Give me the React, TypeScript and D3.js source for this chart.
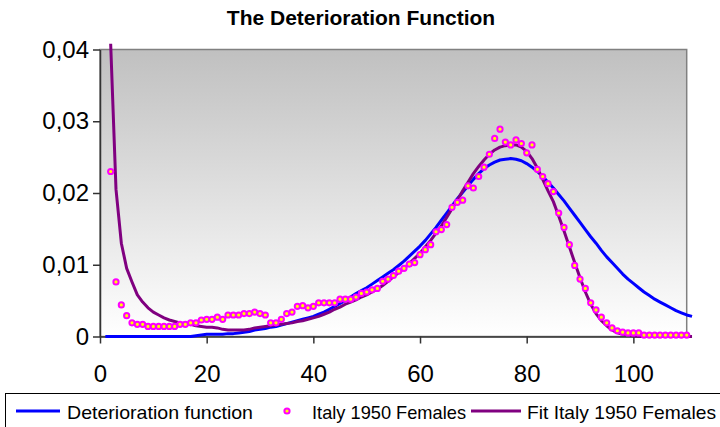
import React, { useEffect, useRef } from "react";
import * as d3 from "d3";

// deterioration function, ages 1..111
const detStartAge = 1;
const deterioration = [
  0, 0, 0, 0, 0, 0, 0, 0, 0, 0,
  0, 0, 0, 0, 0, 0, 0, 0.0001, 0.0002, 0.0003,
  0.0003, 0.0003, 0.0003, 0.0004, 0.0004, 0.0005, 0.0006, 0.0007, 0.0009, 0.001,
  0.0011, 0.0013, 0.0014, 0.0016, 0.0018, 0.002, 0.0022, 0.0024, 0.0026, 0.0028,
  0.0031, 0.0034, 0.0038, 0.0042, 0.0046, 0.005, 0.0055, 0.006, 0.0064, 0.0068,
  0.0073, 0.0078, 0.0083, 0.0088, 0.0093, 0.0099, 0.0105, 0.0112, 0.0119, 0.0126,
  0.0134, 0.0143, 0.0152, 0.0162, 0.0172, 0.0182, 0.0192, 0.0201, 0.021, 0.0219,
  0.0227, 0.0234, 0.0239, 0.0243, 0.0246, 0.0247, 0.0248, 0.0247, 0.0245, 0.0241,
  0.0236, 0.023, 0.0223, 0.0215, 0.0207, 0.0198, 0.0189, 0.0179, 0.0169, 0.0159,
  0.0149, 0.0139, 0.013, 0.012, 0.0111, 0.0103, 0.0095, 0.0087, 0.008, 0.0074,
  0.0068, 0.0062, 0.0057, 0.0052, 0.0048, 0.0044, 0.004, 0.0036, 0.0033, 0.003,
  0.0028,
];

// observed points, ages 2..110
const pointStartAge = 2;
const italy1950Females = [
  0.023, 0.0076, 0.0044, 0.0029, 0.0019, 0.0017, 0.0017, 0.0014, 0.0014, 0.0014,
  0.0014, 0.0014, 0.0014, 0.0017, 0.0017, 0.0019, 0.0019, 0.0023, 0.0024, 0.0024,
  0.0027, 0.0024, 0.003, 0.003, 0.003, 0.0032, 0.0032, 0.0034, 0.0032, 0.003,
  0.0019, 0.0019, 0.0024, 0.0032, 0.0034, 0.0042, 0.0043, 0.004, 0.0042, 0.0047,
  0.0047, 0.0047, 0.0047, 0.0052, 0.0052, 0.0052, 0.0055, 0.006, 0.0062, 0.0065,
  0.0067, 0.0077, 0.008, 0.0085, 0.0091, 0.0095, 0.0101, 0.0103, 0.0114, 0.0121,
  0.0128, 0.0146, 0.0149, 0.0156, 0.018, 0.0187, 0.019, 0.021, 0.0207, 0.0223,
  0.0236, 0.0254, 0.0276, 0.0289, 0.0271, 0.0267, 0.0274, 0.0269, 0.0256, 0.0267,
  0.0233, 0.0223, 0.0213, 0.0202, 0.0172, 0.0152, 0.0128, 0.0099, 0.008, 0.0067,
  0.0047, 0.0037, 0.0027, 0.0019, 0.0012, 0.0008, 0.0006, 0.0005, 0.0005, 0.0005,
  0.0002, 0.0002, 0.0002, 0.0002, 0.0002, 0.0002, 0.0002, 0.0002, 0.0002,
];

// fitted curve, ages 2..111
const fitStartAge = 2;
const fitItaly1950Females = [
  0.0408, 0.0205, 0.013, 0.0095, 0.0076, 0.0058, 0.0048, 0.004, 0.0034, 0.003,
  0.0026, 0.0023, 0.0021, 0.0019, 0.0018, 0.0017, 0.0015, 0.0014, 0.0013, 0.0013,
  0.0012, 0.001, 0.0009, 0.0009, 0.0009, 0.0009, 0.001, 0.0012, 0.0013, 0.0014,
  0.0015, 0.0016, 0.0017, 0.0018, 0.0019, 0.0021, 0.0022, 0.0024, 0.0026, 0.0028,
  0.0031, 0.0034, 0.0038, 0.0041, 0.0045, 0.0048, 0.0051, 0.0055, 0.0058, 0.0062,
  0.0066, 0.0071, 0.0077, 0.0083, 0.0089, 0.0095, 0.0102, 0.0109, 0.0116, 0.0125,
  0.0134, 0.0144, 0.0154, 0.0166, 0.0178, 0.019, 0.0203, 0.0215, 0.0227, 0.0237,
  0.0246, 0.0254, 0.026, 0.0264, 0.0266, 0.0267, 0.0267, 0.0264, 0.0258, 0.0248,
  0.0235, 0.0219, 0.0203, 0.0188, 0.0168, 0.0147, 0.0125, 0.0103, 0.0082, 0.0062,
  0.0045, 0.0032, 0.0022, 0.0015, 0.0009, 0.0005, 0.0003, 0.0002, 0.0001, 0,
  0, 0, 0, 0, 0, 0, 0, 0, 0, 0,
];

const xTicks = [0, 20, 40, 60, 80, 100];
const yTicks = [0, 0.01, 0.02, 0.03, 0.04];
const legendLabels = ["Deterioration function", "Italy 1950 Females", "Fit Italy 1950 Females"];
const title = "The Deterioration Function";

const FONT = "'Liberation Sans', Arial, sans-serif";

export default function App() {
  const ref = useRef<SVGSVGElement>(null);

  useEffect(() => {
    const svg = d3.select(ref.current);
    svg.selectAll("*").remove();

    const plot = { left: 100, right: 686.7, top: 49.5, bottom: 336.5 };
    const x = d3.scaleLinear().domain([0, 110]).range([plot.left, plot.right]);
    const y = d3.scaleLinear().domain([0, 0.04]).range([plot.bottom, plot.top]);

    // background gradient
    const defs = svg.append("defs");
    const grad = defs.append("linearGradient")
      .attr("id", "bg")
      .attr("x1", 0).attr("y1", 0).attr("x2", 0).attr("y2", 1);
    grad.append("stop").attr("offset", "0%").attr("stop-color", "#c0c0c0");
    grad.append("stop").attr("offset", "100%").attr("stop-color", "#ffffff");

    svg.append("rect")
      .attr("x", plot.left).attr("y", plot.top)
      .attr("width", plot.right - plot.left).attr("height", plot.bottom - plot.top)
      .attr("fill", "url(#bg)")
      .attr("stroke", "#808080").attr("stroke-width", 1.5);

    // title
    svg.append("text")
      .attr("x", 361).attr("y", 25)
      .attr("text-anchor", "middle")
      .attr("font-family", FONT).attr("font-weight", "bold").attr("font-size", 21)
      .text(title);

    // axes
    const yAxis = d3.axisLeft(y).tickValues(yTicks).tickSizeInner(7).tickSizeOuter(0).tickPadding(4)
      .tickFormat((d: any) => (d === 0 ? "0" : d3.format(".2f")(d).replace(".", ",")));
    const gy = svg.append("g").attr("transform", `translate(${plot.left},0)`).call(yAxis);

    const xAxis = d3.axisBottom(x).tickValues(xTicks).tickSizeInner(7).tickSizeOuter(0).tickPadding(21);
    const gx = svg.append("g").attr("transform", `translate(0,${plot.bottom})`).call(xAxis);

    [gx, gy].forEach((g) => {
      g.select(".domain").attr("stroke", "#333").attr("stroke-width", 1.5);
      g.selectAll(".tick line").attr("stroke", "#333").attr("stroke-width", 1.5);
      g.selectAll(".tick text")
        .attr("font-family", FONT).attr("font-size", 24).attr("fill", "#000");
    });

    // series
    svg.append("path")
      .attr("d", d3.line<number>()
        .x((d, i) => x(detStartAge + i))
        .y((d) => y(d))(deterioration))
      .attr("fill", "none").attr("stroke", "#0000ff").attr("stroke-width", 3)
      .attr("stroke-linejoin", "round");

    svg.append("path")
      .attr("d", d3.line<number>()
        .x((d, i) => x(fitStartAge + i))
        .y((d) => y(d))(fitItaly1950Females))
      .attr("fill", "none").attr("stroke", "#800080").attr("stroke-width", 3)
      .attr("stroke-linejoin", "round");

    svg.append("g").selectAll("circle")
      .data(italy1950Females)
      .join("circle")
      .attr("cx", (d, i) => x(pointStartAge + i))
      .attr("cy", (d) => y(d))
      .attr("r", 2.6)
      .attr("fill", "#ffff00").attr("stroke", "#ff00ff").attr("stroke-width", 2);

    // legend
    const lg = svg.append("g");
    lg.append("rect")
      .attr("x", 5.5).attr("y", 393.5).attr("width", 800).attr("height", 60)
      .attr("fill", "#fff").attr("stroke", "#000").attr("stroke-width", 1);

    const ly = 411;
    lg.append("line").attr("x1", 16).attr("x2", 60).attr("y1", ly).attr("y2", ly)
      .attr("stroke", "#0000ff").attr("stroke-width", 3);
    lg.append("circle").attr("cx", 287).attr("cy", ly).attr("r", 2.6)
      .attr("fill", "#ffff00").attr("stroke", "#ff00ff").attr("stroke-width", 2);
    lg.append("line").attr("x1", 471).attr("x2", 521).attr("y1", ly).attr("y2", ly)
      .attr("stroke", "#800080").attr("stroke-width", 3);

    const textX = [67, 312, 527];
    const textW = [186, 154, 189];
    legendLabels.forEach((t, i) => {
      lg.append("text")
        .attr("x", textX[i]).attr("y", 418.5)
        .attr("font-family", FONT).attr("font-size", 19)
        .attr("textLength", textW[i]).attr("lengthAdjust", "spacingAndGlyphs")
        .text(t);
    });
  }, []);

  return (
    <svg ref={ref} width={720} height={427}
      style={{ position: "absolute", left: 0, top: 0, background: "#fff" }} />
  );
}
